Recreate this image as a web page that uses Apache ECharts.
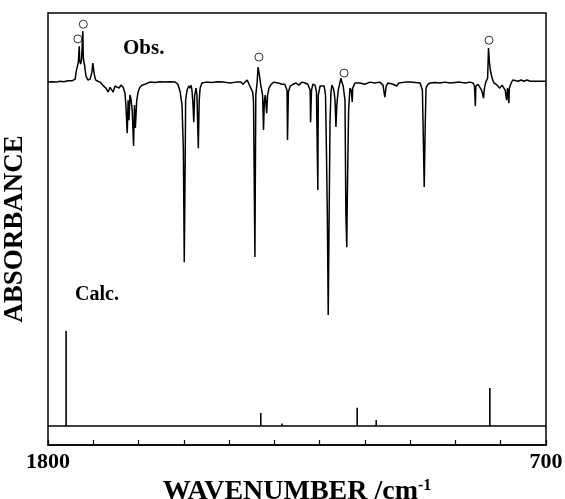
<!DOCTYPE html>
<html>
<head>
<meta charset="utf-8">
<script src="https://cdn.jsdelivr.net/npm/echarts/dist/echarts.min.js"></script>
<style>
  html, body { margin: 0; padding: 0; background: #fff; }
  #chart { width: 565px; height: 499px; }
</style>
</head>
<body>
<div id="chart"></div>
<script>
// observed difference spectrum: [wavenumber, absorbance change]
const obsSpectrum = [
  [1800, 0], [1791, 0.1], [1782, 0], [1773, 0.2], [1765, 0.1], [1756, 0.3], [1747, 0.3], [1740, 0.7],
  [1738, 2.3], [1735, 3.7], [1733, 4.6], [1731, 8.3], [1730, 5.1], [1728, 4.2], [1726, 5.1], [1723, 11.8],
  [1722, 5.6], [1719, 3.7], [1716, 1.4], [1712, 0.5], [1707, 0.7], [1703, 2.3], [1701, 4.4], [1698, 1.9],
  [1695, 0.5], [1690, 0.2], [1685, 0], [1679, -0.7], [1672, -1.4], [1667, -2.3], [1663, -1.2], [1659, -1.6],
  [1656, -2.3], [1652, -0.9], [1648, -0.7], [1643, -1.4], [1639, -0.7], [1634, -1.2], [1630, -2.5], [1628, -5.3],
  [1625, -11.8], [1623, -4.2], [1621, -8.8], [1619, -3.0], [1617, -3.7], [1614, -6.5], [1611, -14.8], [1609, -5.3],
  [1607, -10.6], [1604, -4.2], [1601, -2.3], [1597, -1.2], [1592, -0.7], [1586, -0.5], [1575, 0], [1564, -0.1],
  [1553, 0.1], [1542, 0], [1531, 0.1], [1519, 0], [1513, -0.5], [1508, -2.3], [1504, -5.3], [1501, -15.7],
  [1499, -41.7], [1497, -18.1], [1496, -4.2], [1493, -1.9], [1489, -0.9], [1486, -1.4], [1484, -0.7], [1482, -1.9],
  [1480, -4.6], [1478, -9.3], [1476, -3.0], [1473, -1.4], [1471, -3.0], [1468, -15.3], [1466, -4.2], [1464, -1.4],
  [1460, -0.2], [1451, 0], [1438, -0.1], [1425, 0.1], [1411, 0], [1398, -0.2], [1385, 0], [1374, 0],
  [1369, -0.5], [1365, 0], [1360, 0.5], [1356, -0.5], [1352, -0.9], [1348, -2.3], [1346, -4.6], [1343, -40.5],
  [1341, -3.0], [1338, 0], [1336, 3.5], [1333, 1.6], [1330, -0.7], [1326, -3.0], [1324, -11.1], [1322, -4.2],
  [1320, -3.0], [1317, -7.2], [1315, -3.0], [1312, -1.4], [1307, -0.5], [1301, 0], [1292, -0.2], [1283, -0.5],
  [1277, -0.5], [1272, -1.9], [1271, -13.4], [1269, -2.3], [1265, -0.9], [1259, -0.5], [1252, -0.2], [1246, -0.7],
  [1239, 0], [1232, -0.2], [1226, -0.5], [1221, -1.9], [1220, -9.3], [1218, -1.9], [1215, -0.5], [1210, -0.7],
  [1207, -2.3], [1204, -25.0], [1203, -3.0], [1199, -0.9], [1195, -0.5], [1190, -0.9], [1187, -3.0], [1185, -15.7],
  [1183, -30.8], [1181, -53.9], [1179, -30.8], [1177, -8.8], [1175, -2.3], [1173, -0.7], [1170, -1.4], [1168, -2.3],
  [1166, -4.2], [1164, -10.4], [1162, -5.3], [1159, -1.9], [1156, -0.5], [1153, 0.9], [1151, 0], [1148, -0.9],
  [1146, -0.5], [1144, -4.2], [1142, -30.8], [1140, -38.2], [1139, -27.3], [1136, -6.5], [1133, -1.4], [1130, -1.9],
  [1128, -4.6], [1127, -1.4], [1122, -0.2], [1111, -0.2], [1100, -0.5], [1089, 0], [1078, -0.2], [1067, 0],
  [1060, -0.7], [1056, -3.5], [1053, -0.9], [1049, -0.2], [1038, -0.5], [1030, -0.9], [1025, -0.2], [1011, 0],
  [1000, 0], [989, -0.1], [978, -0.2], [973, -1.9], [971, -13.0], [969, -24.3], [967, -11.1], [965, -1.4],
  [961, -0.5], [956, -0.2], [945, -0.1], [934, -0.2], [923, 0], [912, -0.2], [901, -0.1], [890, 0],
  [879, -0.2], [868, 0], [861, -0.2], [858, -0.9], [856, -5.6], [855, -0.9], [850, -0.5], [846, -0.7],
  [842, -1.9], [838, -3.7], [836, -1.4], [833, 0], [829, 0.9], [827, 7.9], [825, 4.6], [823, 2.8],
  [819, 0.9], [815, -0.2], [810, -0.5], [806, -0.7], [802, -1.4], [797, -0.7], [793, -0.9], [790, -1.9],
  [787, -4.2], [785, -1.4], [782, -4.9], [781, -1.4], [777, -0.2], [773, 0.5], [769, 0.7], [762, 0.2],
  [755, 0.5], [749, 0.2], [742, 0.5], [735, 0.2], [724, 0.2], [713, 0.2], [700, 0.2]
]

// bands marked with open circles
const markedWn = [1734, 1722, 1334, 1146, 826]
const markedHeight = [10.0, 13.4, 5.8, 2.1, 9.7]

// calculated stick spectrum
const calcWn = [1760, 1330, 1283, 1117, 1075, 824]
const calcInt = [22.0, 3.0, 0.6, 4.2, 1.4, 8.8]

const xLabels = [1800, 700]

const OBS_BASE = 84.0
const CALC_BASE = 4.4

let obsData = obsSpectrum.map(p => [p[0], OBS_BASE + p[1]])
let markData = markedWn.map((w, i) => [w, OBS_BASE + markedHeight[i]])

let calcData = [[1800, CALC_BASE]]
calcWn.forEach((w, i) => {
  calcData.push([w, CALC_BASE], [w, CALC_BASE + calcInt[i]], [w, CALC_BASE])
})
calcData.push([700, CALC_BASE])

const serif = 'Liberation Serif'

let myChart = echarts.init(document.getElementById('chart'))
let option = {
  animation: false,
  grid: {
    left: 48,
    top: 13,
    width: 498,
    height: 432,
    show: true,
    borderColor: '#000',
    borderWidth: 1.5,
    containLabel: false,
    outerBoundsMode: 'none'
  },
  xAxis: {
    type: 'value',
    inverse: true,
    min: 700,
    max: 1800,
    interval: 100,
    name: 'WAVENUMBER /cm{sup|-1}',
    nameLocation: 'middle',
    nameGap: 25,
    nameTextStyle: {
      color: '#000',
      fontFamily: serif,
      fontWeight: 'bold',
      fontSize: 28,
      rich: {
        sup: { fontFamily: serif, fontWeight: 'bold', fontSize: 16, verticalAlign: 'top', padding: [0, 0, 11, 0] }
      }
    },
    axisLine: { lineStyle: { color: '#000', width: 1.5 } },
    axisTick: { inside: true, length: 5, lineStyle: { color: '#000', width: 1.2 } },
    splitLine: { show: false },
    axisLabel: {
      showMinLabel: true,
      showMaxLabel: true,
      margin: 6,
      color: '#000',
      fontFamily: serif,
      fontWeight: 'bold',
      fontSize: 22,
      formatter: v => (xLabels.indexOf(v) >= 0 ? String(v) : '')
    }
  },
  yAxis: {
    type: 'value',
    min: 0,
    max: 100,
    name: 'ABSORBANCE',
    nameLocation: 'middle',
    nameGap: 19,
    nameTextStyle: {
      color: '#000',
      fontFamily: serif,
      fontWeight: 'bold',
      fontSize: 27
    },
    axisLine: { show: false },
    axisTick: { show: false },
    axisLabel: { show: false },
    splitLine: { show: false }
  },
  graphic: [
    { type: 'text', left: 123, top: 38, style: { text: 'Obs.', fill: '#000', font: 'bold 21px "Liberation Serif"' } },
    { type: 'text', left: 75, top: 285, style: { text: 'Calc.', fill: '#000', font: 'bold 20px "Liberation Serif"' } }
  ],
  series: [
    {
      name: 'Obs.',
      type: 'line',
      data: obsData,
      showSymbol: false,
      lineStyle: { color: '#000', width: 1.5 }
    },
    {
      name: 'marked',
      type: 'scatter',
      data: markData,
      symbol: 'circle',
      symbolSize: 8,
      itemStyle: { color: '#fff', borderColor: '#000', borderWidth: 1 }
    },
    {
      name: 'Calc.',
      type: 'line',
      data: calcData,
      showSymbol: false,
      lineStyle: { color: '#000', width: 1.6 }
    }
  ]
}
myChart.setOption(option)
</script>
</body>
</html>
